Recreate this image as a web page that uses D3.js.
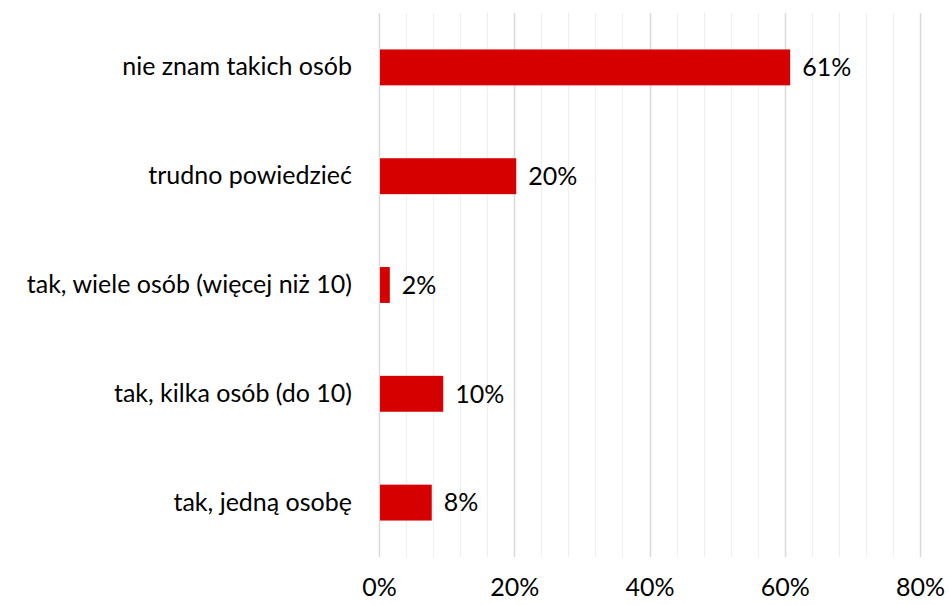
<!DOCTYPE html>
<html lang="pl">
<head>
<meta charset="utf-8">
<title>Chart</title>
<script src="https://cdn.jsdelivr.net/npm/d3@7"></script>
<style>
  body { margin: 0; background: #fff; }
  text { font-family: Lato, "Open Sans", sans-serif; fill: #000; }
</style>
</head>
<body>
<script>
const categories = ["nie znam takich osób", "trudno powiedzieć", "tak, wiele osób (więcej niż 10)", "tak, kilka osób (do 10)", "tak, jedną osobę"]
const values = [60.8, 20.3, 1.6, 9.5, 7.8]
const valueLabels = ["61%", "20%", "2%", "10%", "8%"]
const tickValues = [0, 20, 40, 60, 80]

const w = 949, h = 605
const plotLeft = 379, plotRight = 920, plotTop = 13, plotBottom = 557
const fontSize = 25

const svg = d3.select("body").append("svg")
    .attr("width", w)
    .attr("height", h)

const x = d3.scaleLinear().domain([0, 80]).range([plotLeft, plotRight])
const y = d3.scaleBand().domain(categories).range([plotTop, plotBottom]).paddingInner(0.67).paddingOuter(0.335)

// gridlines every 4%, darker every 20%
const grid = d3.range(0, 81, 4)
svg.append("g").selectAll("line")
    .data(grid)
    .enter().append("line")
    .attr("x1", d => Math.round(x(d)) + 0.5)
    .attr("x2", d => Math.round(x(d)) + 0.5)
    .attr("y1", plotTop)
    .attr("y2", plotBottom)
    .attr("stroke", d => d % 20 === 0 ? "#d9d9d9" : "#efefef")
    .attr("stroke-width", d => d % 20 === 0 ? 1.5 : 1.2)

svg.append("g").selectAll("rect")
    .data(values)
    .enter().append("rect")
    .attr("x", x(0) + 1)
    .attr("y", (d, i) => y(categories[i]))
    .attr("width", d => x(d) - x(0) - 1)
    .attr("height", y.bandwidth())
    .attr("fill", "#d60000")

svg.append("g").selectAll("text")
    .data(values)
    .enter().append("text")
    .attr("x", d => x(d) + 12)
    .attr("y", (d, i) => y(categories[i]) + y.bandwidth() / 2)
    .attr("dy", "0.35em")
    .attr("font-size", fontSize)
    .text((d, i) => valueLabels[i])

const yAxis = d3.axisLeft(y).tickSize(0).tickPadding(27)
svg.append("g")
    .attr("transform", `translate(${plotLeft}, 0)`)
    .call(yAxis)
    .call(g => g.select(".domain").remove())
    .selectAll("text")
    .attr("font-size", fontSize)
    .attr("font-family", "Lato, 'Open Sans', sans-serif")
    .attr("fill", "#000")

const xAxis = d3.axisBottom(x).tickValues(tickValues).tickSize(0).tickPadding(21).tickFormat(d => d + "%")
svg.append("g")
    .attr("transform", `translate(0, ${plotBottom})`)
    .call(xAxis)
    .call(g => g.select(".domain").remove())
    .selectAll("text")
    .attr("font-size", fontSize)
    .attr("font-family", "Lato, 'Open Sans', sans-serif")
    .attr("fill", "#000")
</script>
</body>
</html>
